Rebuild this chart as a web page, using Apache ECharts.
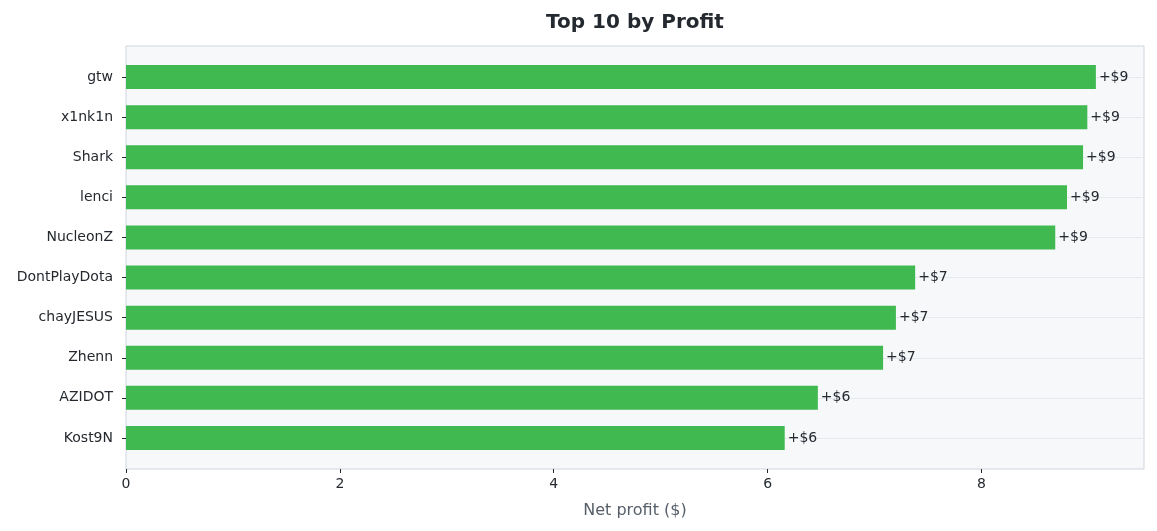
<!DOCTYPE html>
<html>
<head>
<meta charset="utf-8">
<script src="https://cdn.jsdelivr.net/npm/echarts@6/dist/echarts.min.js"></script>
<style>
  html, body { margin: 0; padding: 0; background: #fff; }
  #chart { width: 1157px; height: 531px; }
</style>
</head>
<body>
<div id="chart"></div>
<script>
  // top 10 players by net profit
  var players = ['gtw', 'x1nk1n', 'Shark', 'lenci', 'NucleonZ', 'DontPlayDota', 'chayJESUS', 'Zhenn', 'AZIDOT', 'Kost9N'];
  var profit = [9.07, 8.99, 8.95, 8.80, 8.69, 7.38, 7.20, 7.08, 6.47, 6.16];
  var xTicks = [0, 2, 4, 6, 8];

  var font = 'DejaVu Sans';
  var xMax = 9.52;
  var ink = '#24292f';

  var option = {
    animation: false,
    textStyle: { fontFamily: font },
    title: {
      text: 'Top 10 by Profit',
      left: 630,
      textAlign: 'center',
      top: 8,
      textStyle: { fontFamily: font, fontSize: 20, fontWeight: 'bold', color: ink }
    },
    grid: [
      // bars (one band per player)
      { left: 126, right: 13, top: 57, bottom: 73 },
      // plot frame + bottom axis
      { left: 126, right: 13, top: 46, bottom: 62, show: true, backgroundColor: '#f6f8fa', borderColor: '#d0d5df', borderWidth: 1, z: 0 },
      // horizontal guide lines through the bar centres
      { left: 126, right: 13, top: 77, bottom: 93 }
    ],
    xAxis: [
      { gridIndex: 0, type: 'value', min: 0, max: xMax, show: false, splitLine: { show: false } },
      {
        gridIndex: 1, type: 'value', min: 0, max: xMax,
        name: 'Net profit ($)', nameLocation: 'middle', nameGap: 34,
        nameTextStyle: { fontFamily: font, fontSize: 16, color: '#57606a' },
        axisLine: { show: false },
        axisTick: { show: true, customValues: xTicks, length: 4, lineStyle: { color: ink } },
        axisLabel: { customValues: xTicks, fontFamily: font, fontSize: 14, color: ink, margin: 8 },
        splitLine: { show: false }
      },
      { gridIndex: 2, type: 'value', min: 0, max: xMax, show: false, splitLine: { show: false } }
    ],
    yAxis: [
      {
        gridIndex: 0, type: 'category', data: players, inverse: true,
        axisLine: { show: false },
        axisTick: { show: true, alignWithLabel: true, length: 4, lineStyle: { color: ink } },
        axisLabel: { fontFamily: font, fontSize: 14, color: ink, margin: 13 },
        splitLine: { show: false }
      },
      { gridIndex: 1, type: 'value', show: false, splitLine: { show: false } },
      {
        gridIndex: 2, type: 'value', min: 0, max: players.length - 1, interval: 1,
        axisLine: { show: false }, axisTick: { show: false }, axisLabel: { show: false },
        splitLine: { show: true, lineStyle: { color: '#e6e9ef', width: 1 } }
      }
    ],
    series: [{
      type: 'bar',
      xAxisIndex: 0,
      yAxisIndex: 0,
      barWidth: 24,
      data: profit,
      itemStyle: { color: '#3fb950' },
      label: {
        show: true,
        position: 'right',
        distance: 3,
        fontFamily: font,
        fontSize: 14,
        color: ink,
        formatter: function (p) { return '+$' + Math.round(p.value); }
      },
      z: 3
    }]
  };

  echarts.init(document.getElementById('chart')).setOption(option);
</script>
</body>
</html>
